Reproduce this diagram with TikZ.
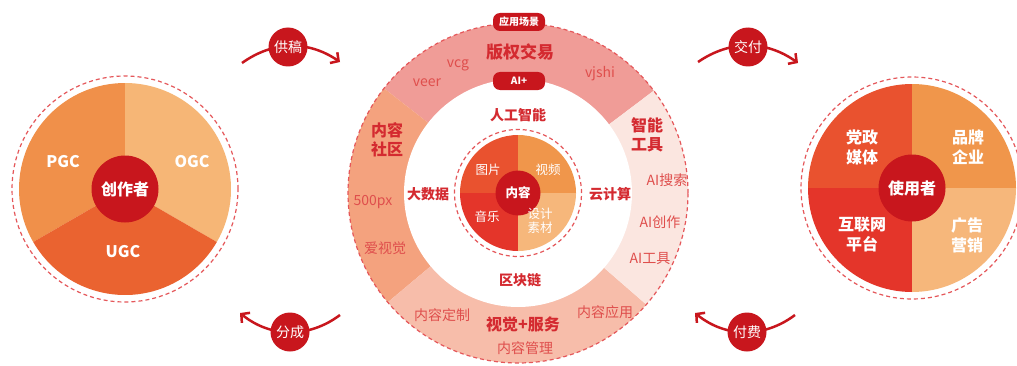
\documentclass[tikz,border=0pt]{standalone}
\usepackage{fontspec}
\setmainfont{Noto Sans CJK SC}
\usepackage{xcolor}
\usetikzlibrary{arrows.meta}
\definecolor{deepred}{HTML}{C8161D}
\definecolor{dashred}{HTML}{E5575A}
\definecolor{titlered}{HTML}{D42A30}
\definecolor{itemred}{HTML}{DF4E4C}
\definecolor{pgcfill}{HTML}{F0904A}
\definecolor{ogcfill}{HTML}{F6B676}
\definecolor{ugcfill}{HTML}{EA6330}
\definecolor{tlfill}{HTML}{E9522F}
\definecolor{trfill}{HTML}{F0964B}
\definecolor{blfill}{HTML}{E4352A}
\definecolor{brfill}{HTML}{F6B77B}
\definecolor{topring}{HTML}{F09C97}
\definecolor{leftring}{HTML}{F4A27E}
\definecolor{bottomring}{HTML}{F7BDAA}
\definecolor{rightring}{HTML}{FBE6E0}

\begin{document}
\begin{tikzpicture}[x=1pt, y=1pt, hub/.style={circle, fill=deepred, text=white, font=\bfseries\fontsize{16}{18}\selectfont, minimum size=67pt, inner sep=0pt}, tag/.style={circle, fill=deepred, text=white, font=\fontsize{14}{16}\selectfont, minimum size=39pt, inner sep=0pt}, badge/.style={rounded corners=7pt, fill=deepred, text=white, font=\bfseries\fontsize{10}{12}\selectfont, minimum width=52pt, minimum height=18pt, inner sep=0pt}, seglabel/.style={text=white, font=\bfseries\fontsize{16}{20}\selectfont, align=center}, title/.style={text=titlered, font=\bfseries\fontsize{15}{19}\selectfont, align=center}, item/.style={text=itemred, font=\fontsize{14}{16}\selectfont}, corelabel/.style={text=white, font=\fontsize{12.5}{14}\selectfont, align=center}, flow/.style={draw=deepred, line width=2.5pt, -{Straight Barb[length=6pt,width=13pt]}}, dashring/.style={draw=dashred, dash pattern=on 4pt off 3pt, line width=1.2pt}]

    \useasboundingbox (0,0) rectangle (1017,365);
    \fill[white] (0,0) rectangle (1017,365);

    %Centres
    \coordinate (lc) at (125,176);
    \coordinate (cc) at (518,172);
    \coordinate (rc) at (912,177);

    %Left pie
    \foreach \a/\b/\c in {90/210/pgcfill, -30/90/ogcfill, 210/330/ugcfill}
        \fill[\c] (lc) -- ++(\a:106) arc[start angle=\a, end angle=\b, radius=106] -- cycle;
    \draw[dashring] (lc) circle[radius=113];

    %Right pie
    \foreach \a/\b/\c in {90/180/tlfill, 0/90/trfill, 180/270/blfill, 270/360/brfill}
        \fill[\c] (rc) -- ++(\a:104) arc[start angle=\a, end angle=\b, radius=104] -- cycle;
    \draw[dashring] (rc) circle[radius=111];

    %Middle ring
    \foreach \a/\b/\c in {37/142/topring, 142/220/leftring, 220/319/bottomring, 319/397/rightring}
        \fill[\c] (cc) -- ++(\a:170) arc[start angle=\a, end angle=\b, radius=170] -- cycle;
    \draw[dashring] (cc) circle[radius=170];
    \fill[white] (cc) circle[radius=114];
    \draw[dashring] (cc) circle[radius=63.5];
    \foreach \a/\b/\c in {90/180/tlfill, 0/90/trfill, 180/270/blfill, 270/360/brfill}
        \fill[\c] (cc) -- ++(\a:58) arc[start angle=\a, end angle=\b, radius=58] -- cycle;

    %Nodes
    \node[hub](creator) at (lc) {创作者};
    \node[seglabel](pgc) at (63,203) {PGC};
    \node[seglabel](ogc) at (192,203) {OGC};
    \node[seglabel](ugc) at (123,113) {UGC};

    \node[hub](user) at (rc) {使用者};
    \node[seglabel](media) at (862,218) {党政\\媒体};
    \node[seglabel](brand) at (968,218) {品牌\\企业};
    \node[seglabel](platform) at (862,130) {互联网\\平台};
    \node[seglabel](ads) at (967,130) {广告\\营销};

    \node[circle, fill=deepred, text=white, font=\bfseries\fontsize{12.5}{14}\selectfont, minimum size=45pt, inner sep=0pt](content) at (cc) {内容};
    \node[corelabel](pic) at (488,195) {图片};
    \node[corelabel](video) at (548,195) {视频};
    \node[corelabel](music) at (487,148) {音乐};
    \node[corelabel](design) at (540,144) {设计\\素材};

    \node[badge](scene) at (519,343) {应用场景};
    \node[badge](aiplus) at (519,284) {AI+};
    \node[title, font=\bfseries\fontsize{17}{20}\selectfont](copyright) at (520,313) {版权交易};
    \node[item](vcg) at (458,300) {vcg};
    \node[item](veer) at (427,282) {veer};
    \node[item](vjshi) at (600,291) {vjshi};
    \node[title, font=\bfseries\fontsize{14}{16}\selectfont](ai) at (518,250) {人工智能};
    \node[title, font=\bfseries\fontsize{14}{16}\selectfont](bigdata) at (428,171) {大数据};
    \node[title, font=\bfseries\fontsize{14}{16}\selectfont](cloud) at (610,171) {云计算};
    \node[title, font=\bfseries\fontsize{14}{16}\selectfont](chain) at (520,85) {区块链};
    \node[title, font=\bfseries\fontsize{16}{19}\selectfont](community) at (387,225) {内容\\社区};
    \node[item](px) at (373,163) {500px};
    \node[item](aishijue) at (385,117) {爱视觉};
    \node[title, font=\bfseries\fontsize{16}{19}\selectfont](tools) at (647,230) {智能\\工具};
    \node[item](search) at (667,185) {AI搜索};
    \node[item](create) at (660,143) {AI创作};
    \node[item](aitool) at (650,106) {AI工具};
    \node[title, font=\bfseries\fontsize{16}{19}\selectfont](service) at (523,41) {视觉+服务};
    \node[item](custom) at (442,50) {内容定制};
    \node[item](apply) at (605,53) {内容应用};
    \node[item](manage) at (525,17) {内容管理};

    %Lines
    \coordinate (supply_s) at (242,302);
    \coordinate (supply_e) at (340,303);
    \coordinate (deliver_s) at (698,303);
    \coordinate (deliver_e) at (798,302);
    \coordinate (share_s) at (340,50);
    \coordinate (share_e) at (240,52);
    \coordinate (pay_s) at (795,50);
    \coordinate (pay_e) at (695,52);
    \draw[flow] (supply_s) to[bend left=35] (supply_e);
    \draw[flow] (deliver_s) to[bend left=35] (deliver_e);
    \draw[flow] (share_s) to[bend left=38] (share_e);
    \draw[flow] (pay_s) to[bend left=38] (pay_e);
    \node[tag](supply) at (288,318) {供稿};
    \node[tag](deliver) at (748,318) {交付};
    \node[tag](share) at (290,33) {分成};
    \node[tag](pay) at (747,33) {付费};

\end{tikzpicture}
\end{document}
